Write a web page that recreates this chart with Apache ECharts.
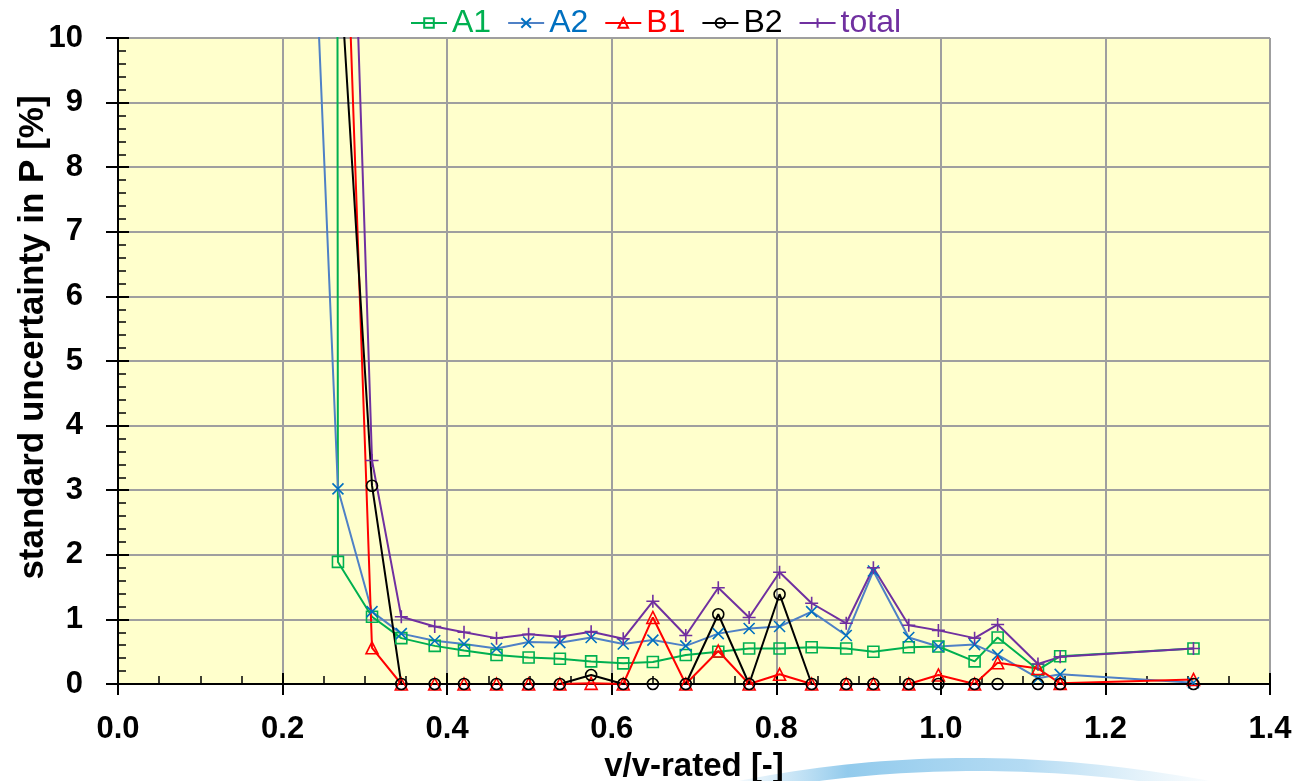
<!DOCTYPE html>
<html>
<head>
<meta charset="utf-8">
<script src="https://cdn.jsdelivr.net/npm/echarts@6/dist/echarts.min.js"></script>
<style>
  html, body { margin: 0; padding: 0; background: #ffffff; }
  #chart { width: 1297px; height: 781px; }
</style>
</head>
<body>
<div id="chart"></div>
<script>
// ---- data ----
const xValues = [0.227, 0.2673, 0.3087, 0.3443, 0.3849, 0.4205, 0.460, 0.499, 0.537, 0.575, 0.614, 0.650, 0.690, 0.7295, 0.767, 0.804, 0.843, 0.885, 0.918, 0.961, 0.997, 1.041, 1.069, 1.118, 1.145, 1.307];
const seriesA1 = [600, 1.89, 1.04, 0.71, 0.59, 0.52, 0.45, 0.41, 0.39, 0.35, 0.32, 0.34, 0.45, 0.50, 0.55, 0.55, 0.57, 0.55, 0.50, 0.57, 0.58, 0.35, 0.72, 0.22, 0.43, 0.55];
const seriesA2 = [15.3, 3.02, 1.12, 0.78, 0.67, 0.62, 0.55, 0.65, 0.64, 0.72, 0.62, 0.68, 0.59, 0.78, 0.86, 0.89, 1.12, 0.75, 1.75, 0.72, 0.58, 0.61, 0.45, 0.09, 0.15, 0.02];
const seriesB1 = [20, 15.7, 0.56, 0, 0, 0, 0, 0, 0, 0.01, 0, 1.03, 0, 0.51, 0, 0.15, 0, 0, 0, 0, 0.14, 0, 0.33, 0.24, 0.01, 0.07];
const seriesB2 = [15, 11.6, 3.07, 0, 0, 0, 0, 0, 0, 0.14, 0, 0, 0, 1.08, 0, 1.39, 0, 0, 0, 0, 0, 0, 0, 0, 0, 0];
const seriesTotal = [600, 19.7, 3.46, 1.04, 0.89, 0.80, 0.71, 0.77, 0.73, 0.81, 0.70, 1.28, 0.75, 1.49, 1.03, 1.73, 1.25, 0.94, 1.80, 0.91, 0.83, 0.71, 0.92, 0.31, 0.42, 0.55];
const seriesNames = ['A1', 'A2', 'B1', 'B2', 'total'];
const xAxisTitle = 'v/v-rated [-]';
const yAxisTitle = 'standard uncertainty in P [%]';

const pairs = ys => xValues.map((x, i) => [x, ys[i]]);

const styles = {
  A1:    { line: '#00B050', mark: '#00B050', text: '#00B050', symbol: 'rect', size: 11 },
  A2:    { line: '#4F81C6', mark: '#0070C0', text: '#0070C0', symbol: 'path://M0,0L10,10M10,0L0,10', size: 11 },
  B1:    { line: '#FF0000', mark: '#FF0000', text: '#FF0000', symbol: 'triangle', size: 12 },
  B2:    { line: '#000000', mark: '#000000', text: '#000000', symbol: 'circle', size: 11 },
  total: { line: '#7030A0', mark: '#7030A0', text: '#7030A0', symbol: 'path://M5,0L5,10M0,5L10,5', size: 13 }
};
const dataByName = { A1: seriesA1, A2: seriesA2, B1: seriesB1, B2: seriesB2, total: seriesTotal };

// decorative watermark swoosh (not data): band between two quadratic arcs
const swoosh = [];
const quad = (t, a, b, c) => (1 - t) * (1 - t) * a + 2 * t * (1 - t) * b + t * t * c;
for (let i = 0; i <= 40; i++) {
  const t = i / 40;
  swoosh.push([quad(t, 720, 965, 1230), quad(t, 785, 731, 785)]);
}
for (let i = 40; i >= 0; i--) {
  const t = i / 40;
  swoosh.push([quad(t, 760, 975, 1200), quad(t, 790, 752, 790)]);
}

const chart = echarts.init(document.getElementById('chart'));

const axisBlack = { show: true, lineStyle: { color: '#000', width: 2 } };
const tickFont = { fontFamily: 'Liberation Sans', fontWeight: 'bold', fontSize: 31, color: '#000' };

const option = {
  animation: false,
  backgroundColor: '#ffffff',
  graphic: [{
    type: 'polygon',
    z: -1,
    shape: { points: swoosh },
    style: {
      fill: {
        type: 'linear', x: 0, y: 0, x2: 1, y2: 0,
        colorStops: [
          { offset: 0, color: 'rgba(150,205,238,0)' },
          { offset: 0.25, color: 'rgba(110,185,230,0.75)' },
          { offset: 0.6, color: 'rgba(130,195,235,0.6)' },
          { offset: 1, color: 'rgba(170,215,240,0)' }
        ]
      }
    }
  }],
  legend: {
    top: 2,
    left: 405,
    itemWidth: 36,
    itemHeight: 12,
    itemGap: 16,
    textStyle: { fontFamily: 'Liberation Sans', fontSize: 32 },
    data: seriesNames.map(n => ({ name: n, textStyle: { color: styles[n].text } }))
  },
  grid: {
    left: 118, right: 27, top: 38, bottom: 97,
    outerBoundsMode: 'none', containLabel: false,
    show: true, backgroundColor: '#FFFFCC', borderWidth: 0
  },
  xAxis: [{
    type: 'value', min: 0, max: 1.4, interval: 0.2, position: 'bottom',
    axisLine: axisBlack,
    axisTick: { show: true, inside: false, length: 11, lineStyle: { color: '#000', width: 2 } },
    minorTick: { show: false },
    axisLabel: Object.assign({ margin: 30, formatter: v => v.toFixed(1) }, tickFont),
    splitLine: { show: true, lineStyle: { color: '#9f9f9f', width: 2 } },
    name: xAxisTitle, nameLocation: 'middle', nameGap: 66, nameMoveOverlap: false,
    nameTextStyle: { fontFamily: 'Liberation Sans', fontWeight: 'bold', fontSize: 33, color: '#000' }
  }, {
    type: 'value', min: 0, max: 1.4, interval: 0.2, position: 'bottom',
    axisLine: axisBlack,
    axisTick: { show: true, inside: true, length: 11, lineStyle: { color: '#000', width: 2 } },
    minorTick: { show: true, splitNumber: 4, length: 8, lineStyle: { color: '#000', width: 1.5 } },
    axisLabel: { show: false },
    splitLine: { show: false }
  }],
  yAxis: [{
    type: 'value', min: 0, max: 10, interval: 1, position: 'left',
    axisLine: axisBlack,
    axisTick: { show: true, inside: false, length: 12, lineStyle: { color: '#000', width: 2 } },
    minorTick: { show: false },
    axisLabel: Object.assign({ margin: 35 }, tickFont),
    splitLine: { show: true, lineStyle: { color: '#9f9f9f', width: 2 } },
    name: yAxisTitle, nameLocation: 'middle', nameGap: 67, nameRotate: 90, nameMoveOverlap: false,
    nameTextStyle: { fontFamily: 'Liberation Sans', fontWeight: 'bold', fontSize: 35, color: '#000', padding: [0, 0, 0, 47] }
  }, {
    type: 'value', min: 0, max: 10, interval: 1, position: 'left',
    axisLine: axisBlack,
    axisTick: { show: true, inside: true, length: 11, lineStyle: { color: '#000', width: 2 } },
    minorTick: { show: true, splitNumber: 5, length: 8, lineStyle: { color: '#000', width: 1.5 } },
    axisLabel: { show: false },
    splitLine: { show: false }
  }],
  series: seriesNames.map(n => ({
    name: n,
    type: 'line',
    xAxisIndex: 0,
    yAxisIndex: 0,
    data: pairs(dataByName[n]),
    symbol: styles[n].symbol,
    symbolSize: styles[n].size,
    showSymbol: true,
    clip: true,
    lineStyle: { color: styles[n].line, width: 2 },
    itemStyle: { color: 'rgba(0,0,0,0)', borderColor: styles[n].mark, borderWidth: 1.6 },
    emphasis: { disabled: true }
  }))
};

chart.setOption(option);
</script>
</body>
</html>
